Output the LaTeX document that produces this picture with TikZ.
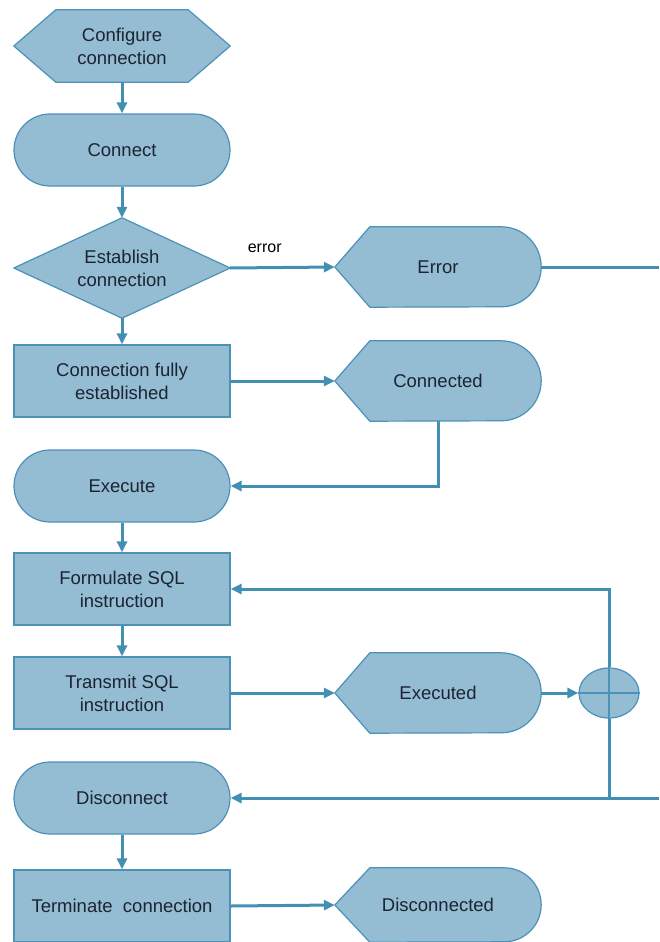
\documentclass[tikz,border=0pt]{standalone}
\usepackage{fontspec}
\setmainfont{Liberation Sans}
\usetikzlibrary{arrows.meta,backgrounds,shapes.misc,shapes.geometric}
\definecolor{boxfill}{RGB}{148,188,211}
\definecolor{boxline}{RGB}{76,146,184}
\definecolor{flowline}{RGB}{66,143,180}
\definecolor{labeltext}{RGB}{28,36,50}

\begin{document}
\begin{tikzpicture}[x=1pt,y=-1pt,
  every node/.style={font=\fontsize{18.5}{23}\selectfont, text=labeltext, align=center},
  frame/.style={minimum width=216pt, minimum height=72pt, inner sep=0pt},
  rectbox/.style={frame, draw=boxline, fill=boxfill, line width=1.2pt},
  roundbox/.style={rectbox, rounded rectangle},
  anchorbox/.style={frame, draw=none},
  dispbox/.style={anchorbox, minimum width=206pt, minimum height=80pt},
  outline/.style={draw=boxline, fill=boxfill, line width=1.2pt, line join=round},
  flow/.style={draw=flowline, line width=3pt, -{Triangle[length=11pt,width=10pt]}},
  plain/.style={draw=flowline, line width=3pt},
]
\useasboundingbox (0,0) rectangle (659,942);

% left column
\node[anchorbox] (cfg) at (122,46) {Configure\\connection};
\node[roundbox] (connect) at (122,150) {Connect};
\node[anchorbox, minimum height=100pt] (establish) at (122,268) {Establish\\connection};
\node[rectbox] (established) at (122,381) {Connection fully\\established};
\node[roundbox] (execute) at (122,486) {Execute};
\node[rectbox] (formulate) at (122,589) {Formulate SQL\\instruction};
\node[rectbox] (transmit) at (122,693) {Transmit SQL\\instruction};
\node[roundbox] (disconnect) at (122,798) {Disconnect};
\node[rectbox] (terminate) at (122,906) {Terminate\ \ connection};

% right column (display shapes)
\node[dispbox] (error) at (438,267) {Error};
\node[dispbox] (connected) at (438,381) {Connected};
\node[dispbox] (executed) at (438,693) {Executed};
\node[dispbox, minimum height=74pt] (disconnected) at (438,905) {Disconnected};

% junction
\node[ellipse, draw=boxline, fill=boxfill, line width=1.2pt, minimum width=60pt, minimum height=50pt, inner sep=0pt] (junction) at (609,693) {};
\draw[boxline, line width=1.2pt] (junction.north) -- (junction.south) (junction.west) -- (junction.east);

\coordinate (edgeA) at (659,267);
\coordinate (edgeB) at (659,798);

% outlines behind the labels
\begin{scope}[on background layer]
  \draw[outline] (cfg.west) -- ([xshift=42pt]cfg.north west) -- ([xshift=-42pt]cfg.north east)
    -- (cfg.east) -- ([xshift=-42pt]cfg.south east) -- ([xshift=42pt]cfg.south west) -- cycle;
  \draw[outline] (establish.west) -- (establish.north) -- (establish.east) -- (establish.south) -- cycle;
  \foreach \n/\r in {error/40,connected/40,executed/40,disconnected/37}{
    \draw[outline] (\n.west) -- ([xshift=35pt]\n.north west) -- ([xshift=-\r pt]\n.north east)
      arc[start angle=90, end angle=-90, radius=\r pt]
      -- ([xshift=35pt]\n.south west) -- cycle;
  }
\end{scope}

% connectors
\draw[flow] (cfg.south) -- (connect.north);
\draw[flow] (connect.south) -- (establish.north);
\draw[flow] (establish.south) -- (established.north);
\draw[flow] (establish.east) -- node[above=10pt, pos=0.33, font=\fontsize{16}{18}\selectfont, text=black] {error} (error.west);
\draw[plain] (error.east) -- (edgeA);
\draw[flow] (established.east) -- (connected.west);
\draw[flow] (connected.south) |- (execute.east);
\draw[flow] (execute.south) -- (formulate.north);
\draw[flow] (formulate.south) -- (transmit.north);
\draw[flow] (transmit.east) -- (executed.west);
\draw[flow] (executed.east) -- (junction.west);
\draw[flow] (junction.north) |- (formulate.east);
\draw[plain] (junction.south) -- (junction.south |- disconnect.east);
\draw[flow] (edgeB) -- (disconnect.east);
\draw[flow] (disconnect.south) -- (terminate.north);
\draw[flow] (terminate.east) -- (disconnected.west);
\end{tikzpicture}
\end{document}
